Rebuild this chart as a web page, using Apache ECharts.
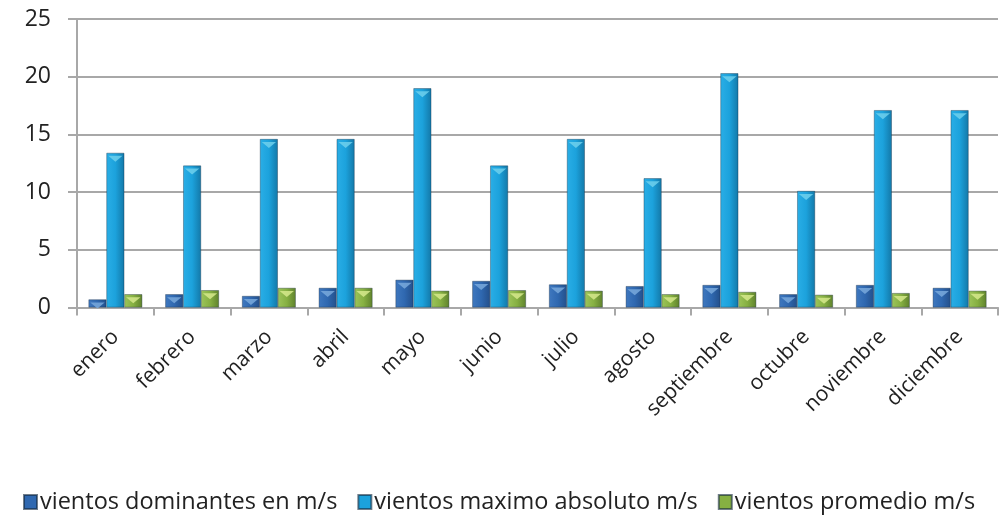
<!DOCTYPE html>
<html><head><meta charset="utf-8">
<script src="https://cdn.jsdelivr.net/npm/echarts@6/dist/echarts.min.js"></script>
<style>html,body{margin:0;padding:0;background:#fff}#c{width:1006px;height:519px}</style>
</head><body><div id="c"></div>
<script>
const categories = ['enero','febrero','marzo','abril','mayo','junio','julio','agosto','septiembre','octubre','noviembre','diciembre'];
const dominantes = [0.7, 1.15, 1.0, 1.7, 2.4, 2.3, 2.0, 1.85, 1.95, 1.15, 1.95, 1.7];
const maximo = [13.4, 12.3, 14.6, 14.6, 19.0, 12.3, 14.6, 11.2, 20.3, 10.1, 17.1, 17.1];
const promedio = [1.15, 1.5, 1.7, 1.7, 1.45, 1.5, 1.45, 1.15, 1.35, 1.1, 1.25, 1.45];
const seriesNames = ['vientos dominantes en m/s','vientos maximo absoluto m/s','vientos promedio m/s'];
const yTicks = [0,5,10,15,20,25];

const FONT = '"Open Sans", sans-serif';
function grad(a,b,c){
  return new echarts.graphic.LinearGradient(0,0,1,0,[
    {offset:0,color:a},{offset:0.5,color:b},{offset:1,color:c}]);
}
const colors = [
  grad('#3f78bf','#2f68b0','#234f8a'),
  grad('#2aaee6','#1ca2dc','#1378a8'),
  grad('#9cc45a','#86b042','#5f822c')
];
const bevel = ['#79a9dc','#6fd0ec','#d6e98c'];
const legendColors = ['#2f68b0','#1ca2dc','#86b042'];
const chart = echarts.init(document.getElementById('c'), null, {renderer:'canvas'});
const GAP = '0%', CGAP = '30%';
const mk = (name, data, i) => ({
  name, type:'bar', data, barGap:GAP, barCategoryGap:CGAP,
  itemStyle:{color:colors[i], borderColor:'rgba(20,40,60,0.6)', borderWidth:0.6},
  emphasis:{disabled:true}
});
const tri = (data, i) => ({
  name:'bevel'+i, type:'pictorialBar', data, barGap:GAP, barCategoryGap:CGAP,
  symbol:'path://M0,0 L10,0 L5,4 Z', symbolSize:['80%',6], symbolPosition:'end',
  symbolOffset:[0,'50%'], z:5, silent:true,
  itemStyle:{color:bevel[i], opacity:0.85}
});
chart.setOption({
  animation:false,
  color: legendColors,
  grid:{left:77, right:8, top:19, bottom:211.5, containLabel:false},
  legend:{
    top:485, left:18, itemWidth:13, itemHeight:14, itemGap:20,
    icon:'rect',
    textStyle:{fontFamily:FONT, fontSize:23.5, color:'#222', padding:[0,0,0,-2]},
    data: seriesNames.map((n,i)=>({name:n, itemStyle:{color:legendColors[i]}}))
  },
  xAxis:{
    type:'category', data:categories,
    axisLine:{lineStyle:{color:'#a8a8a8', width:2}},
    axisTick:{show:true, length:8, lineStyle:{color:'#a8a8a8', width:2}},
    axisLabel:{rotate:45, fontFamily:FONT, fontSize:21, color:'#222', margin:26}
  },
  yAxis:{
    type:'value', min:0, max:25, interval:5,
    axisLine:{show:true, lineStyle:{color:'#a8a8a8', width:2}},
    axisTick:{show:true, length:9, lineStyle:{color:'#a8a8a8', width:2}},
    splitLine:{lineStyle:{color:'#a8a8a8', width:2}},
    axisLabel:{fontFamily:FONT, fontSize:23, color:'#222', margin:26,
      formatter:v=>yTicks.includes(v)?String(v):''}
  },
  series:[mk(seriesNames[0],dominantes,0), mk(seriesNames[1],maximo,1), mk(seriesNames[2],promedio,2),
          tri(dominantes,0), tri(maximo,1), tri(promedio,2)]
});
</script></body></html>
